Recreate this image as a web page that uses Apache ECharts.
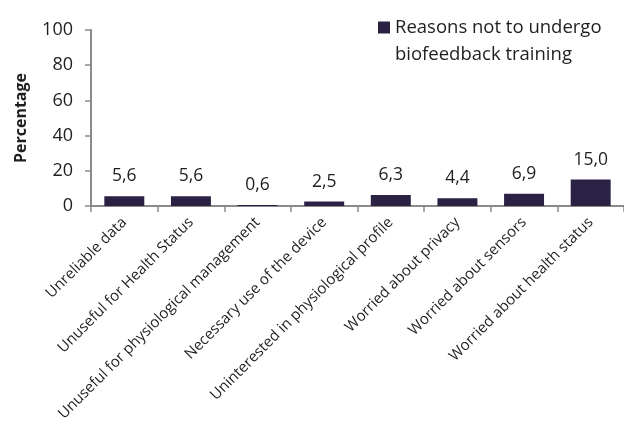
<!DOCTYPE html>
<html><head><meta charset="utf-8">
<script src="https://cdn.jsdelivr.net/npm/echarts@6/dist/echarts.min.js"></script>
<style>html,body{margin:0;padding:0;background:#fff}#c{width:624px;height:427px}</style>
</head><body><div id="c"></div>
<script>
const categories = ["Unreliable data","Unuseful for Health Status","Unuseful for physiological management","Necessary use of the device","Uninterested in physiological profile","Worried about privacy","Worried about sensors","Worried about health status"];
const values = [5.6, 5.6, 0.6, 2.5, 6.3, 4.4, 6.9, 15.0];
const seriesName = "Reasons not to undergo\nbiofeedback training";
const yTicks = {min: 0, max: 100, interval: 20};
const font = "'Open Sans', 'Liberation Sans', sans-serif";
const textColor = '#1e1e1e';
const chart = echarts.init(document.getElementById('c'));
chart.setOption({
  animation: false,
  grid: {left: 91, right: 0, top: 30, bottom: 221},
  legend: {
    data: [seriesName], left: 378, top: 14, padding: 0, itemWidth: 12, itemHeight: 39,
    icon: 'path://M0,0 H12 V12 H0 Z M0,39 L0.001,39 L0,39.001 Z',
    textStyle: {fontFamily: font, fontSize: 18.5, color: textColor, lineHeight: 27}
  },
  xAxis: {
    type: 'category', data: categories,
    axisLine: {lineStyle: {color: '#8a8a8a', width: 2}},
    axisTick: {show: true, length: 6, lineStyle: {color: '#8a8a8a', width: 1.5}},
    axisLabel: {rotate: 45, interval: 0, fontFamily: font, fontSize: 15, color: textColor, margin: 14}
  },
  yAxis: {
    type: 'value', min: yTicks.min, max: yTicks.max, interval: yTicks.interval,
    name: 'Percentage', nameLocation: 'middle', nameGap: 62,
    nameTextStyle: {fontFamily: font, fontSize: 16, fontWeight: 'bold', color: textColor},
    splitLine: {show: false},
    axisLine: {show: true, lineStyle: {color: '#8a8a8a', width: 2}},
    axisTick: {show: true, length: 6, lineStyle: {color: '#8a8a8a', width: 1.5}},
    axisLabel: {fontFamily: font, fontSize: 18, color: textColor, margin: 18}
  },
  series: [{
    name: seriesName, type: 'bar', data: values, barWidth: '60%',
    itemStyle: {color: '#2b2145'},
    label: {show: true, position: 'top', distance: 11, fontFamily: font, fontSize: 17.5, color: textColor,
      formatter: p => p.value.toFixed(1).replace('.', ',')}
  }]
});
</script></body></html>
